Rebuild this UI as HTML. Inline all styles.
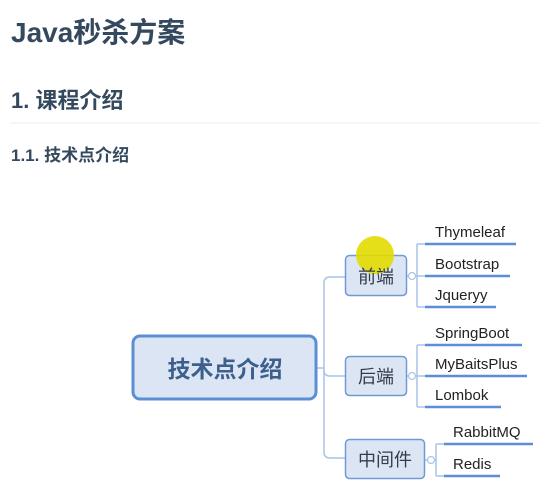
<!DOCTYPE html>
<html><head><meta charset="utf-8"><style>
html,body{margin:0;padding:0;background:#fff;width:540px;height:493px;overflow:hidden}
svg{display:block}
</style></head><body>
<svg width="540" height="493" xmlns="http://www.w3.org/2000/svg" font-family="Liberation Sans, Noto Sans CJK SC, sans-serif">
<text x="11" y="42" font-size="28" font-weight="bold" fill="#34495e">Java秒杀方案</text>
<text x="11" y="108" font-size="22" font-weight="bold" fill="#34495e">1. 课程介绍</text>
<line x1="10" y1="123" x2="540" y2="123" stroke="#eeeeee" stroke-width="1"/>
<text x="11" y="161" font-size="17" font-weight="bold" fill="#34495e">1.1. 技术点介绍</text>

<g fill="none" stroke="#a9c4e8" stroke-width="1.5">
<path d="M317 368 H324"/>
<path d="M345 277 H330 Q324 277 324 283 V452 Q324 458 330 458 H345"/>
<path d="M324 370 Q324 376 330 376 H345"/>
<path d="M407 276 H417 M417 244 V307 M417 244 H425 M417 276 H425 M417 307 H425"/>
<path d="M407 376 H417 M417 345 V407 M417 345 H425 M417 376 H425 M417 407 H425"/>
<path d="M425 460 H436 M436 444 V476 M436 444 H444 M436 476 H444"/>
</g>
<g fill="#fff" stroke="#a9c4e8" stroke-width="1.2">
<circle cx="412" cy="276" r="3.5"/><circle cx="412" cy="376" r="3.5"/><circle cx="431" cy="460" r="3.5"/>
</g>

<rect x="133" y="336" width="183" height="63" rx="7" fill="#dbe5f4" stroke="#5b8fd4" stroke-width="3"/>
<text x="225" y="377" font-size="23" font-weight="bold" fill="#3d5f8c" text-anchor="middle">技术点介绍</text>

<rect x="345.5" y="255.5" width="61" height="40" rx="4" fill="#dbe5f4" stroke="#6f9ad6" stroke-width="1.5"/>
<rect x="345.5" y="356.5" width="61" height="39" rx="4" fill="#dbe5f4" stroke="#6f9ad6" stroke-width="1.5"/>
<rect x="345.5" y="439.5" width="79" height="39" rx="4" fill="#dbe5f4" stroke="#6f9ad6" stroke-width="1.5"/>
<circle cx="375" cy="255" r="19" fill="#e2dc00" opacity="0.9"/>
<text x="376" y="283" font-size="18" fill="#333c4a" text-anchor="middle">前端</text>
<text x="376" y="383" font-size="18" fill="#333c4a" text-anchor="middle">后端</text>
<text x="385" y="466" font-size="18" fill="#333c4a" text-anchor="middle">中间件</text>

<g stroke="#5b8fd4" stroke-width="2.5">
<line x1="425" y1="244" x2="516" y2="244"/>
<line x1="425" y1="276" x2="510" y2="276"/>
<line x1="425" y1="307" x2="496" y2="307"/>
<line x1="425" y1="345" x2="522" y2="345"/>
<line x1="425" y1="376" x2="527" y2="376"/>
<line x1="425" y1="407" x2="501" y2="407"/>
<line x1="444" y1="444" x2="533" y2="444"/>
<line x1="444" y1="476" x2="500" y2="476"/>
</g>
<g font-size="15" fill="#222">
<text x="435" y="237">Thymeleaf</text>
<text x="435" y="269">Bootstrap</text>
<text x="435" y="300">Jqueryy</text>
<text x="435" y="338">SpringBoot</text>
<text x="435" y="369">MyBaitsPlus</text>
<text x="435" y="400">Lombok</text>
<text x="453" y="437">RabbitMQ</text>
<text x="453" y="469">Redis</text>
</g>
</svg>
</body></html>
